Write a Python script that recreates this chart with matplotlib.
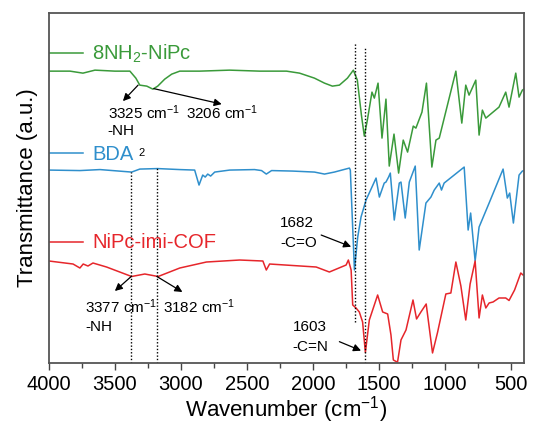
import matplotlib
matplotlib.use("Agg")
import matplotlib.pyplot as plt

plt.rcParams["font.family"] = ["Liberation Sans", "DejaVu Sans"]
plt.rcParams["mathtext.fontset"] = "custom"
plt.rcParams["mathtext.rm"] = "Liberation Sans"
plt.rcParams["mathtext.it"] = "Liberation Sans"
plt.rcParams["mathtext.default"] = "regular"

# ---- FT-IR spectra (wavenumber in cm^-1, transmittance in offset a.u.) ----
wn_nipc = [4000, 3841, 3743, 3652, 3501, 3387, 3342, 3312, 3259, 3213, 3176, 3123,
           3070, 3009, 2858, 2631, 2404, 2200, 2101, 1988, 1912, 1852, 1799, 1738,
           1693, 1663, 1632, 1610, 1587, 1552, 1534, 1506, 1476, 1446, 1421, 1385,
           1350, 1315, 1282, 1239, 1219, 1173, 1139, 1098, 1067, 1042, 916, 871,
           841, 816, 765, 740, 715, 689, 589, 538, 513, 462, 437, 412, 400]
t_nipc = [2.92, 2.92, 2.90, 2.93, 2.92, 2.92, 2.85, 2.78, 2.77, 2.74, 2.77, 2.84,
          2.89, 2.92, 2.92, 2.93, 2.92, 2.92, 2.90, 2.85, 2.80, 2.77, 2.78, 2.85,
          2.93, 2.83, 2.48, 2.27, 2.43, 2.71, 2.65, 2.80, 2.25, 2.64, 1.97, 2.29,
          1.90, 2.23, 2.11, 2.37, 2.35, 2.51, 2.80, 1.96, 2.23, 2.25, 2.92, 2.40,
          2.78, 2.68, 2.83, 2.28, 2.53, 2.45, 2.56, 2.71, 2.56, 2.90, 2.66, 2.73, 2.74]

wn_bda = [4000, 3766, 3614, 3374, 3312, 3176, 3009, 2896, 2863, 2835, 2816, 2797,
          2775, 2744, 2631, 2442, 2389, 2353, 2313, 2154, 1988, 1912, 1837, 1723,
          1716, 1685, 1660, 1635, 1597, 1521, 1496, 1459, 1446, 1426, 1413, 1383,
          1345, 1332, 1300, 1269, 1224, 1194, 1143, 1105, 1080, 1042, 1025, 1005,
          853, 823, 804, 770, 740, 664, 558, 526, 508, 480, 437, 412, 400]
t_bda = [1.93, 1.925, 1.935, 1.91, 1.94, 1.945, 1.935, 1.93, 1.78, 1.88, 1.86, 1.89,
         1.87, 1.91, 1.93, 1.935, 1.925, 1.89, 1.925, 1.92, 1.91, 1.89, 1.91, 1.95,
         1.93, 0.93, 1.26, 1.46, 1.63, 1.85, 1.66, 1.80, 1.81, 1.86, 1.90, 1.43,
         1.80, 1.81, 1.45, 1.81, 1.97, 1.13, 1.60, 1.66, 1.73, 1.80, 1.73, 1.80,
         1.96, 1.33, 1.50, 1.02, 1.36, 1.60, 1.94, 1.65, 1.70, 1.40, 1.88, 1.92, 1.925]

wn_cof = [4000, 3818, 3766, 3741, 3705, 3667, 3564, 3374, 3274, 3173, 3009, 2807,
          2555, 2379, 2353, 2328, 2152, 1975, 1875, 1748, 1731, 1710, 1698, 1673,
          1648, 1623, 1602, 1572, 1509, 1471, 1433, 1408, 1390, 1370, 1358, 1332,
          1294, 1241, 1214, 1181, 1141, 1093, 1055, 992, 954, 916, 878, 841, 808,
          770, 740, 715, 689, 664, 634, 589, 538, 513, 471, 424, 407, 400]
t_cof = [1.02, 0.99, 0.95, 0.99, 0.97, 1.00, 0.96, 0.865, 0.89, 0.865, 0.95, 1.01,
         1.03, 1.02, 0.93, 0.99, 0.975, 0.96, 0.91, 0.98, 1.03, 0.93, 0.58, 0.55,
         0.51, 0.41, 0.105, 0.43, 0.68, 0.51, 0.49, 0.28, 0.03, 0.015, 0.01, 0.23,
         0.33, 0.63, 0.44, 0.51, 0.59, 0.10, 0.305, 0.69, 0.70, 1.01, 0.77, 0.43, 0.79,
         1.02, 0.45, 0.68, 0.55, 0.60, 0.61, 0.65, 0.65, 0.625, 0.73, 0.90, 0.88, 0.88]

series_names = ["8NH$_2$-NiPc", "BDA", "NiPc-imi-COF"]
series_colors = ["#3a9a3a", "#2f8fcc", "#e6262b"]

# marker lines: (wavenumber, y from, y to)
guide_lines = [(3377, 0.0, 1.91), (3182, 0.0, 1.96), (1682, 0.41, 3.21), (1603, 0.0, 3.16)]

x_ticks = [4000, 3500, 3000, 2500, 2000, 1500, 1000, 500]

fig = plt.figure(figsize=(5.33, 4.25), dpi=100)
ax = fig.add_axes([0.092, 0.146, 0.891, 0.823])

for wn, t, c in zip([wn_nipc, wn_bda, wn_cof], [t_nipc, t_bda, t_cof], series_colors):
    ax.plot(wn, t, color=c, lw=1.1)

for x, y0, y1 in guide_lines:
    ax.plot([x, x], [y0, y1], color="black", lw=1.0, ls=(0, (1.0, 1.4)))

# inline series labels with short line samples
label_y_line = [3.097, 2.097, 1.213]
label_y_text = [3.03, 2.03, 1.147]
for name, c, yl, yt in zip(series_names, series_colors, label_y_line, label_y_text):
    ax.plot([4000, 3743], [yl, yl], color=c, lw=1.1)
    ax.text(3675, yt, name, color=c, fontsize=14.5, ha="left", va="baseline")

arrow = dict(arrowstyle="-|>", color="black", lw=0.9, mutation_scale=11,
             shrinkA=0, shrinkB=0)
fs = 11

# -NH2 bands of 8NH2-NiPc
ax.text(3554, 2.50, "3325 cm$^{-1}$", fontsize=fs, ha="left", va="center")
ax.text(2964, 2.50, "3206 cm$^{-1}$", fontsize=fs, ha="left", va="center")
ax.text(3554, 2.32, "-NH", fontsize=fs, ha="left", va="center")
ax.text(3320, 2.105, "2", fontsize=8, ha="left", va="center")
ax.annotate("", xy=(3440, 2.62), xytext=(3325, 2.78), arrowprops=arrow)
ax.annotate("", xy=(2691, 2.59), xytext=(3206, 2.745), arrowprops=arrow)

# -NH bands of the COF
ax.text(3728, 0.563, "3377 cm$^{-1}$", fontsize=fs, ha="left", va="center")
ax.text(3135, 0.563, "3182 cm$^{-1}$", fontsize=fs, ha="left", va="center")
ax.text(3728, 0.36, "-NH", fontsize=fs, ha="left", va="center")
ax.annotate("", xy=(3501, 0.72), xytext=(3377, 0.865), arrowprops=arrow)
ax.annotate("", xy=(2989, 0.71), xytext=(3182, 0.865), arrowprops=arrow)

# C=O and C=N
ax.text(2247, 1.403, "1682", fontsize=fs, ha="left", va="center")
ax.text(2247, 1.197, "-C=O", fontsize=fs, ha="left", va="center")
ax.annotate("", xy=(1710, 1.163), xytext=(1937, 1.28), arrowprops=arrow)
ax.text(2152, 0.363, "1603", fontsize=fs, ha="left", va="center")
ax.text(2152, 0.163, "-C=N", fontsize=fs, ha="left", va="center")
ax.annotate("", xy=(1635, 0.123), xytext=(1799, 0.213), arrowprops=arrow)

ax.set_xlim(4000, 400)
ax.set_ylim(0, 3.5)
ax.set_xticks(x_ticks)
ax.set_xticks(range(3750, 400, -500), minor=True)
ax.set_yticks([])
ax.tick_params(axis="x", which="major", direction="out", length=5, width=1,
               labelsize=14.5, pad=3.5, color="#444444")
ax.tick_params(axis="x", which="minor", direction="out", length=3.5, width=1,
               color="#444444")
for s in ax.spines.values():
    s.set_color("#555555")
    s.set_linewidth(1.3)

ax.set_xlabel("Wavenumber (cm$^{-1}$)", fontsize=16, labelpad=0)
ax.set_ylabel("Transmittance (a.u.)", fontsize=16, labelpad=8)

fig.savefig("out.png", dpi=100)
